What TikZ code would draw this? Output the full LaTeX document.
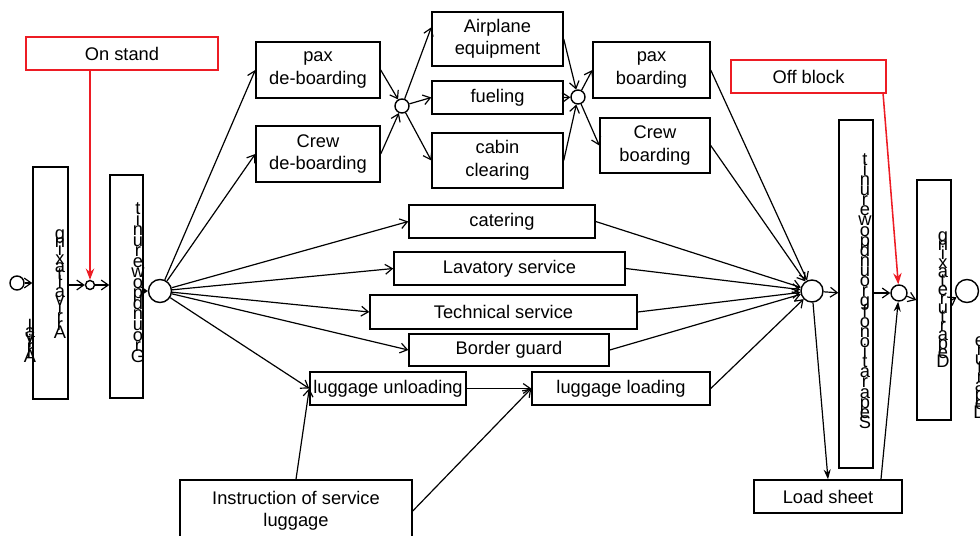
\documentclass[tikz,border=0pt]{standalone}
\usepackage{fontspec}
\setmainfont{Liberation Sans}
\usetikzlibrary{arrows.meta}
\definecolor{stopred}{RGB}{237,28,36}
\lineskiplimit=-100pt

\begin{document}
\begin{tikzpicture}[x=0.025cm, y=-0.025cm,
  every node/.style={font=\fontsize{13}{16}\selectfont},
  box/.style={draw, line width=1pt, align=center, inner sep=0pt, minimum height=0.825cm},
  redbox/.style={box, draw=stopred},
  bar/.style={draw, line width=1pt, inner sep=0pt},
  event/.style={draw, circle, line width=1pt, fill=white, inner sep=0pt},
  vstack/.style={font=\fontsize{13}{#1}\selectfont, align=center, inner sep=0pt},
  flow/.style={-{Straight Barb[length=5pt, width=7pt]}, line width=0.85pt},
  solid flow/.style={-{Stealth[length=7pt, width=5pt]}, line width=0.85pt},
  red flow/.style={-{Stealth[length=8pt, width=6pt]}, line width=1.1pt, draw=stopred}]
\useasboundingbox (0,0) rectangle (980,535);
\node[redbox, minimum width=4.8cm] (onstand) at (122,53.5) {On stand};
\node[redbox, minimum width=3.875cm] (offblock) at (808.5,76.5) {Off block};
\node[event, minimum size=0.35cm] (start) at (17,283) {};
\node[bar, minimum width=0.875cm, minimum height=5.8cm] (bar1) at (50.5,283) {};
\node[vstack=5.9pt] (bar1txt) at (60,284) {g\\n\\i\\x\\a\\t\\l\\a\\v\\i\\r\\r\\A};
\node[vstack=3.5pt] (arrtxt) at (30,341) {l\\a\\v\\i\\r\\r\\A};
\node[event, minimum size=0.225cm] (c0) at (90,285) {};
\node[bar, minimum width=0.825cm, minimum height=5.575cm] (bar2) at (126.5,286.5) {};
\node[vstack=7.5pt] (bar2txt) at (138,282.5) {t\\i\\n\\u\\r\\e\\w\\o\\p\\d\\n\\u\\o\\r\\G};
\node[event, minimum size=0.575cm] (c1) at (160,291) {};
\node[box, minimum width=3.1cm, minimum height=1.4cm] (paxdeb) at (318,70) {pax\\de-boarding};
\node[box, minimum width=3.1cm, minimum height=1.4cm] (crewdeb) at (318,154) {Crew\\de-boarding};
\node[event, minimum size=0.35cm] (c2) at (402,106) {};
\node[box, minimum width=3.275cm, minimum height=1.35cm] (equip) at (497.5,39) {Airplane\\equipment};
\node[box, minimum width=3.275cm] (fuel) at (497.5,97.5) {fueling};
\node[box, minimum width=3.275cm, minimum height=1.375cm] (cabin) at (497.5,160.5) {cabin\\clearing};
\node[event, minimum size=0.35cm] (c3) at (578,97) {};
\node[box, minimum width=2.925cm, minimum height=1.4cm] (paxb) at (651.5,70) {pax\\boarding};
\node[box, minimum width=2.75cm, minimum height=1.375cm] (crewb) at (655,145.5) {Crew\\boarding};
\node[box, minimum width=4.65cm] (catering) at (502,221.5) {catering};
\node[box, minimum width=5.775cm] (lavatory) at (509.5,268.5) {Lavatory service};
\node[box, minimum width=6.675cm, minimum height=0.85cm] (technical) at (503.5,312) {Technical service};
\node[box, minimum width=5cm, minimum height=0.8cm] (border) at (509,350) {Border guard};
\node[box, minimum width=3.9cm] (lugun) at (388,388.5) {luggage unloading};
\node[box, minimum width=4.45cm] (lugload) at (621,388.5) {luggage loading};
\node[box, minimum width=5.8cm, minimum height=1.55cm] (instr) at (296,511) {Instruction of service\\luggage};
\node[event, minimum size=0.55cm] (c4) at (812,291) {};
\node[bar, minimum width=0.85cm, minimum height=8.7cm] (bar3) at (856,294) {};
\node[vstack=7.2pt] (bar3txt) at (865,291) {t\\i\\n\\u\\r\\e\\w\\o\\p\\d\\n\\u\\o\\r\\g\\f\\o\\n\\o\\i\\t\\a\\r\\a\\p\\e\\S};
\node[box, minimum width=3.7cm] (loadsheet) at (828,496.5) {Load sheet};
\node[event, minimum size=0.4cm] (c5) at (899,293) {};
\node[bar, minimum width=0.85cm, minimum height=6cm] (bar4) at (934,300) {};
\node[vstack=6.4pt] (bar4txt) at (943,300) {g\\n\\i\\x\\a\\t\\e\\r\\u\\t\\r\\a\\p\\e\\D};
\node[event, minimum size=0.575cm] (finish) at (967,291) {};
\node[vstack=6.4pt] (deptxt) at (980,378) {e\\r\\u\\t\\r\\a\\p\\e\\D};
\draw[flow] (start) -- (bar1);
\draw[flow] (bar1.east |- c0) -- (c0);
\draw[flow] (c0) -- (bar2.west |- c0);
\draw[flow] (bar2.east |- c1) -- (c1);
\draw[flow] (c1) -- (paxdeb.west);
\draw[flow] (c1) -- (crewdeb.west);
\draw[flow] (c1) -- (catering.west);
\draw[flow] (c1) -- (lavatory.west);
\draw[flow] (c1) -- (technical.west);
\draw[flow] (c1) -- (border.west);
\draw[flow] (c1) -- (lugun.west);
\draw[flow] (paxdeb.east) -- (c2);
\draw[flow] (crewdeb.east) -- (c2);
\draw[flow] (c2) -- (equip.170);
\draw[flow] (c2) -- (fuel.west);
\draw[flow] (c2) -- (cabin.west);
\draw[flow] (equip.east) -- (c3);
\draw[flow] (fuel.east) -- (c3);
\draw[flow] (cabin.east) -- (c3);
\draw[flow] (c3) -- (paxb.west);
\draw[flow] (c3) -- (crewb.west);
\draw[flow] (paxb.east) -- (c4);
\draw[flow] (crewb.east) -- (c4);
\draw[flow] (catering.east) -- (c4);
\draw[flow] (lavatory.east) -- (c4);
\draw[flow] (technical.east) -- (c4);
\draw[flow] (border.east) -- (c4);
\draw[flow] (lugload.east) -- (c4);
\draw[flow] (lugun) -- (lugload);
\draw[flow] (instr.north) -- (lugun.west);
\draw[flow] (instr.east) -- (lugload.west);
\draw[flow] (c4) -- (bar3);
\draw[solid flow] (c4) -- (loadsheet.north);
\draw[solid flow] (loadsheet.18) -- (c5);
\draw[flow] (bar3.east |- c5) -- (c5);
\draw[flow] (c5) -- (bar4.west);
\draw[flow] (bar4.east) -- (finish);
\draw[red flow] (c0 |- onstand.south) -- (c0);
\draw[red flow] (offblock.-13) -- (c5);

\end{tikzpicture}
\end{document}
